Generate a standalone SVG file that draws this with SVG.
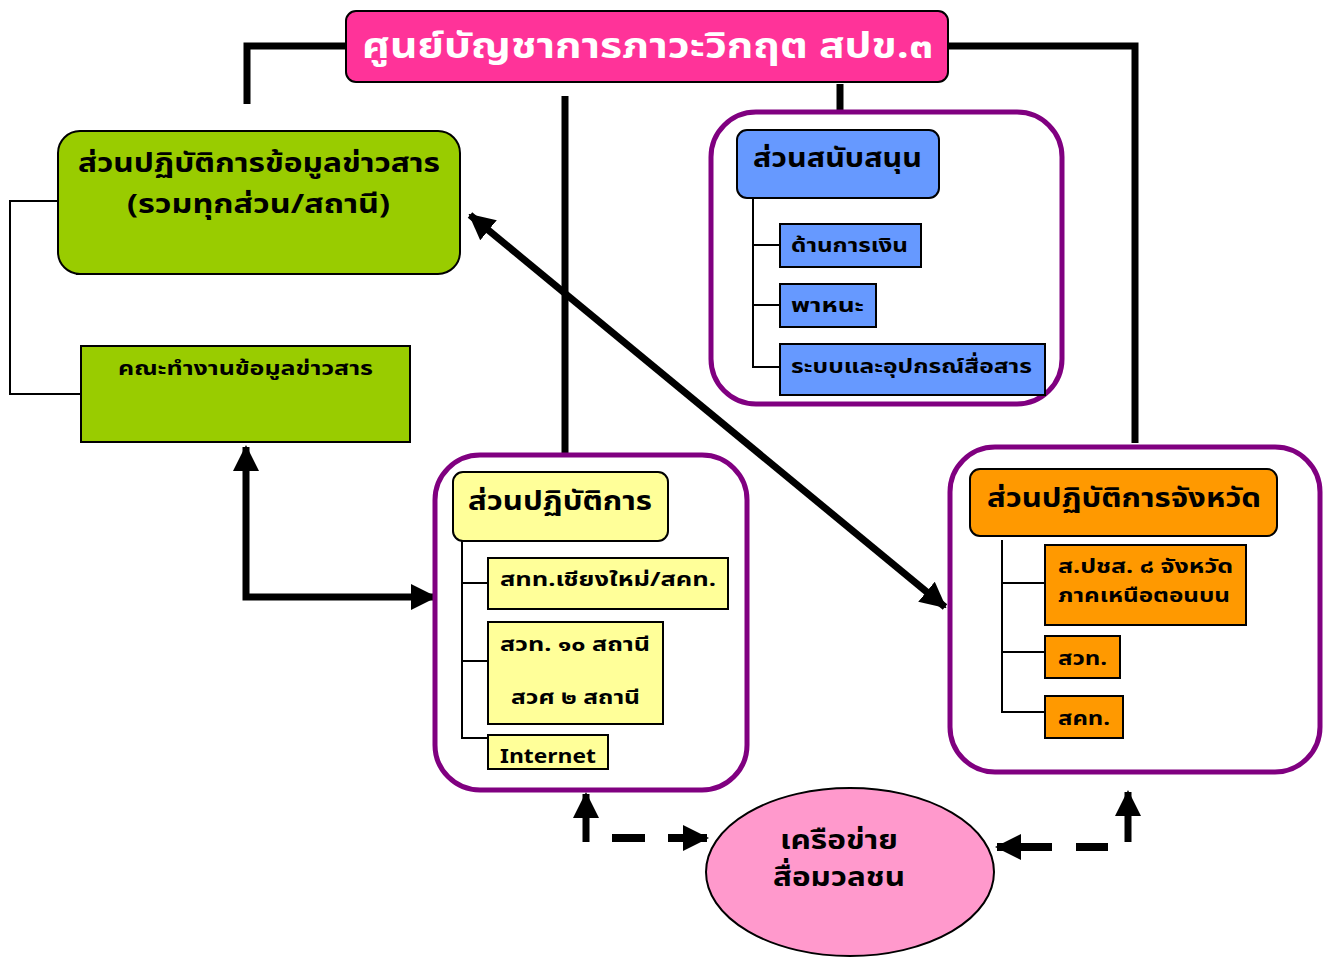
<svg xmlns="http://www.w3.org/2000/svg" width="1327" height="958" viewBox="0 0 1327 958">
<style>
text{font-family:Tahoma,"Noto Sans Thai","Noto Sans","DejaVu Sans",sans-serif;font-weight:bold;fill:#000}
.big{font-size:27px}
.sm{font-size:20px}
.xs{font-size:19px}
.thick{stroke:#000;stroke-width:7;fill:none}
.thin{stroke:#000;stroke-width:2;fill:none}
.cont{fill:#fff;stroke:#800080;stroke-width:5}
.box{stroke:#000;stroke-width:2}
</style>
<defs>
<marker id="ah" markerUnits="userSpaceOnUse" markerWidth="26" markerHeight="26" viewBox="0 0 26 26" refX="24" refY="13" orient="auto-start-reverse">
<path d="M0,0 L26,13 L0,26 Z" fill="#000"/>
</marker>
</defs>
<rect width="1327" height="958" fill="#fff"/>

<g id="connectors">
<polyline class="thick" points="346,46 247,46 247,104"/>
<polyline class="thick" points="948,46 1135,46 1135,443"/>
<line class="thick" x1="565" y1="96" x2="565" y2="472"/>
<line class="thick" x1="840" y1="84" x2="840" y2="130"/>
<polyline class="thin" points="58,201 10,201 10,394 81,394"/>
<line x1="76" y1="274" x2="110" y2="274" stroke="#000" stroke-width="2"/>
<polyline class="thick" points="246,447 246,597 435,597" marker-start="url(#ah)" marker-end="url(#ah)"/>
<line class="thick" x1="470" y1="215" x2="945" y2="607" marker-start="url(#ah)" marker-end="url(#ah)"/>
<line class="thick" x1="586" y1="842" x2="586" y2="794" marker-end="url(#ah)"/>
<line x1="612" y1="838" x2="645" y2="838" stroke="#000" stroke-width="8"/>
<line x1="668" y1="838" x2="707" y2="838" stroke="#000" stroke-width="8" marker-end="url(#ah)"/>
<line x1="1108" y1="847" x2="1076" y2="847" stroke="#000" stroke-width="8"/>
<line x1="1052" y1="847" x2="997" y2="847" stroke="#000" stroke-width="8" marker-end="url(#ah)"/>
<line class="thick" x1="1128" y1="842" x2="1128" y2="792" marker-end="url(#ah)"/>
</g>

<g id="title">
<rect x="346" y="11" width="602" height="71" rx="10" fill="#FF3399" stroke="#000" stroke-width="2"/>
<text x="362" y="58" textLength="571" lengthAdjust="spacingAndGlyphs" style="fill:#fff;font-size:36px">ศูนย์บัญชาการภาวะวิกฤต สปข.๓</text>
</g>

<g id="info-ops">
<rect x="58" y="131" width="402" height="143" rx="22" fill="#99CC00" class="box"/>
<text x="78" y="172" textLength="362" lengthAdjust="spacingAndGlyphs" class="big">ส่วนปฏิบัติการข้อมูลข่าวสาร</text>
<text x="127" y="213" textLength="263" lengthAdjust="spacingAndGlyphs" class="big">(รวมทุกส่วน/สถานี)</text>
</g>

<g id="info-team">
<rect x="81" y="346" width="329" height="96" fill="#99CC00" class="box"/>
<text x="118" y="375" textLength="255" lengthAdjust="spacingAndGlyphs" class="sm">คณะทำงานข้อมูลข่าวสาร</text>
</g>

<g id="support">
<rect x="711" y="112" width="351" height="292" rx="45" class="cont"/>
<rect x="737" y="130" width="202" height="68" rx="10" fill="#6699FF" class="box"/>
<text x="753" y="167" textLength="169" lengthAdjust="spacingAndGlyphs" class="big">ส่วนสนับสนุน</text>
<polyline class="thin" points="753,198 753,367 780,367"/>
<line class="thin" x1="753" y1="245" x2="780" y2="245"/>
<line class="thin" x1="753" y1="305" x2="780" y2="305"/>
<rect x="780" y="224" width="141" height="43" fill="#6699FF" class="box"/>
<text x="791" y="252" textLength="117" lengthAdjust="spacingAndGlyphs" class="sm">ด้านการเงิน</text>
<rect x="780" y="284" width="96" height="43" fill="#6699FF" class="box"/>
<text x="791" y="312" textLength="73" lengthAdjust="spacingAndGlyphs" class="sm">พาหนะ</text>
<rect x="780" y="344" width="265" height="51" fill="#6699FF" class="box"/>
<text x="791" y="373" textLength="241" lengthAdjust="spacingAndGlyphs" class="sm">ระบบและอุปกรณ์สื่อสาร</text>
</g>

<g id="operations">
<rect x="435" y="455" width="312" height="335" rx="45" class="cont"/>
<rect x="453" y="472" width="215" height="69" rx="10" fill="#FFFF99" class="box"/>
<text x="468" y="510" textLength="184" lengthAdjust="spacingAndGlyphs" class="big">ส่วนปฏิบัติการ</text>
<polyline class="thin" points="462,541 462,738 488,738"/>
<line class="thin" x1="462" y1="583" x2="488" y2="583"/>
<line class="thin" x1="462" y1="661" x2="488" y2="661"/>
<rect x="488" y="558" width="240" height="51" fill="#FFFF99" class="box"/>
<text x="500" y="586" textLength="216" lengthAdjust="spacingAndGlyphs" class="sm">สทท.เชียงใหม่/สคท.</text>
<rect x="488" y="622" width="175" height="102" fill="#FFFF99" class="box"/>
<text x="500" y="651" textLength="150" lengthAdjust="spacingAndGlyphs" class="sm">สวท. ๑๐ สถานี</text>
<text x="511" y="704" textLength="129" lengthAdjust="spacingAndGlyphs" class="sm">สวศ ๒ สถานี</text>
<rect x="488" y="735" width="120" height="34" fill="#FFFF99" class="box"/>
<text x="500" y="763" textLength="96" lengthAdjust="spacingAndGlyphs" class="sm">Internet</text>
</g>

<g id="province">
<rect x="950" y="447" width="370" height="325" rx="45" class="cont"/>
<rect x="970" y="469" width="307" height="67" rx="10" fill="#FF9900" class="box"/>
<text x="987" y="507" textLength="274" lengthAdjust="spacingAndGlyphs" class="big">ส่วนปฏิบัติการจังหวัด</text>
<polyline class="thin" points="1002,540 1002,712 1045,712"/>
<line class="thin" x1="1002" y1="583" x2="1045" y2="583"/>
<line class="thin" x1="1002" y1="652" x2="1045" y2="652"/>
<rect x="1045" y="545" width="201" height="80" fill="#FF9900" class="box"/>
<text x="1058" y="573" textLength="175" lengthAdjust="spacingAndGlyphs" class="xs">ส.ปชส. ๘ จังหวัด</text>
<text x="1058" y="602" textLength="172" lengthAdjust="spacingAndGlyphs" class="xs">ภาคเหนือตอนบน</text>
<rect x="1045" y="636" width="75" height="42" fill="#FF9900" class="box"/>
<text x="1058" y="665" textLength="49" lengthAdjust="spacingAndGlyphs" class="sm">สวท.</text>
<rect x="1045" y="696" width="78" height="42" fill="#FF9900" class="box"/>
<text x="1058" y="725" textLength="52" lengthAdjust="spacingAndGlyphs" class="sm">สคท.</text>
</g>

<g id="media">
<ellipse cx="850" cy="872" rx="144" ry="84" fill="#FF99CC" stroke="#000" stroke-width="2"/>
<text x="780" y="849" textLength="118" lengthAdjust="spacingAndGlyphs" class="big">เครือข่าย</text>
<text x="773" y="886" textLength="132" lengthAdjust="spacingAndGlyphs" class="big">สื่อมวลชน</text>
</g>
</svg>
